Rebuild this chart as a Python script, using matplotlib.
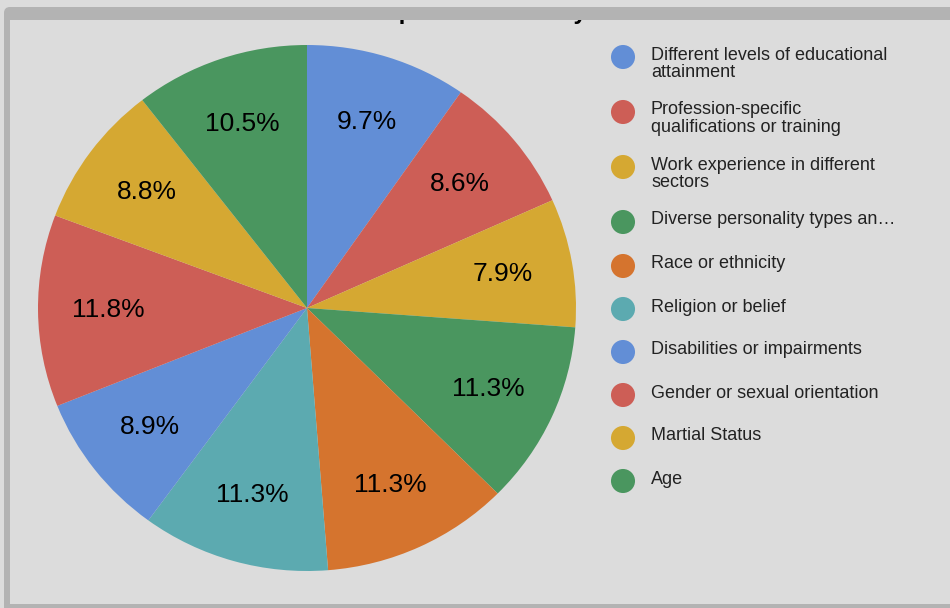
import matplotlib.pyplot as plt
import numpy as np
from matplotlib.patches import Rectangle, FancyBboxPatch

plt.rcParams['font.family'] = ['Liberation Sans', 'DejaVu Sans']

# slice shares in percent, clockwise from 12 o'clock
categories = [
    "Different levels of educational\nattainment",
    "Profession-specific\nqualifications or training",
    "Work experience in different\nsectors",
    "Diverse personality types an\u2026",
    "Race or ethnicity",
    "Religion or belief",
    "Disabilities or impairments",
    "Gender or sexual orientation",
    "Martial Status",
    "Age",
]
shares = [9.7, 8.6, 7.9, 11.3, 11.3, 11.3, 8.9, 11.8, 8.8, 10.5]
colors = ["#628ed6", "#cd5e56", "#d5a832", "#4a965f", "#d5742e",
          "#5caab0", "#628ed6", "#cd5e56", "#d5a832", "#4a965f"]

bg = "#dcdcdc"
frame = "#b3b3b3"
W, H = 950, 608

fig = plt.figure(figsize=(W / 100, H / 100), dpi=100, facecolor=bg)

# overlay in pixel units for frame, title and legend
ov = fig.add_axes([0, 0, 1, 1], zorder=0)
ov.set_xlim(0, W)
ov.set_ylim(H, 0)
ov.axis("off")

ov.add_patch(FancyBboxPatch((4, 7), 1000, 700, boxstyle="round,pad=0,rounding_size=6",
                            fc=frame, ec="none", zorder=1))
ov.add_patch(Rectangle((10, 19.5), 1000, 584.5, fc=bg, ec="none", zorder=2))
ov.text(371, 18.6, "Important Diversity", fontsize=17, fontweight="bold",
        ha="left", va="baseline", color="black", zorder=3)
# top edge of the frame sits over the title
ov.add_patch(Rectangle((10, 7), 1000, 12.6, fc=frame, ec="none", zorder=4))
ov.add_patch(Rectangle((10, 0), 1000, 7, fc=bg, ec="none", zorder=4))

# legend
row_y = [57, 112, 167, 222, 266, 309, 352, 395, 438, 481]
for y, lab, c in zip(row_y, categories, colors):
    ov.scatter([623], [y], s=300, color=c, edgecolors="none", zorder=5)
    for i, line in enumerate(lab.split("\n")):
        ov.text(651, y + 2.5 + i * 17.7, line, fontsize=13, color="#222222",
                ha="left", va="baseline", zorder=5)

# pie
cx, cy, rx, ry = 307, 308, 269, 263
ax = fig.add_axes([(cx - rx) / W, (H - cy - ry) / H, 2 * rx / W, 2 * ry / H], zorder=1)
wedges, _ = ax.pie(shares, colors=colors, startangle=90, counterclock=False,
                   radius=1, wedgeprops=dict(linewidth=0))
for w, v in zip(wedges, shares):
    mid = np.deg2rad((w.theta1 + w.theta2) / 2)
    ax.text(0.74 * np.cos(mid), 0.74 * np.sin(mid), f"{v}%",
            fontsize=19, ha="center", va="center", color="black")
ax.set_xlim(-1, 1)
ax.set_ylim(-1, 1)
ax.set_aspect("auto")
ax.axis("off")

fig.savefig("out.png", dpi=100, facecolor=bg)
